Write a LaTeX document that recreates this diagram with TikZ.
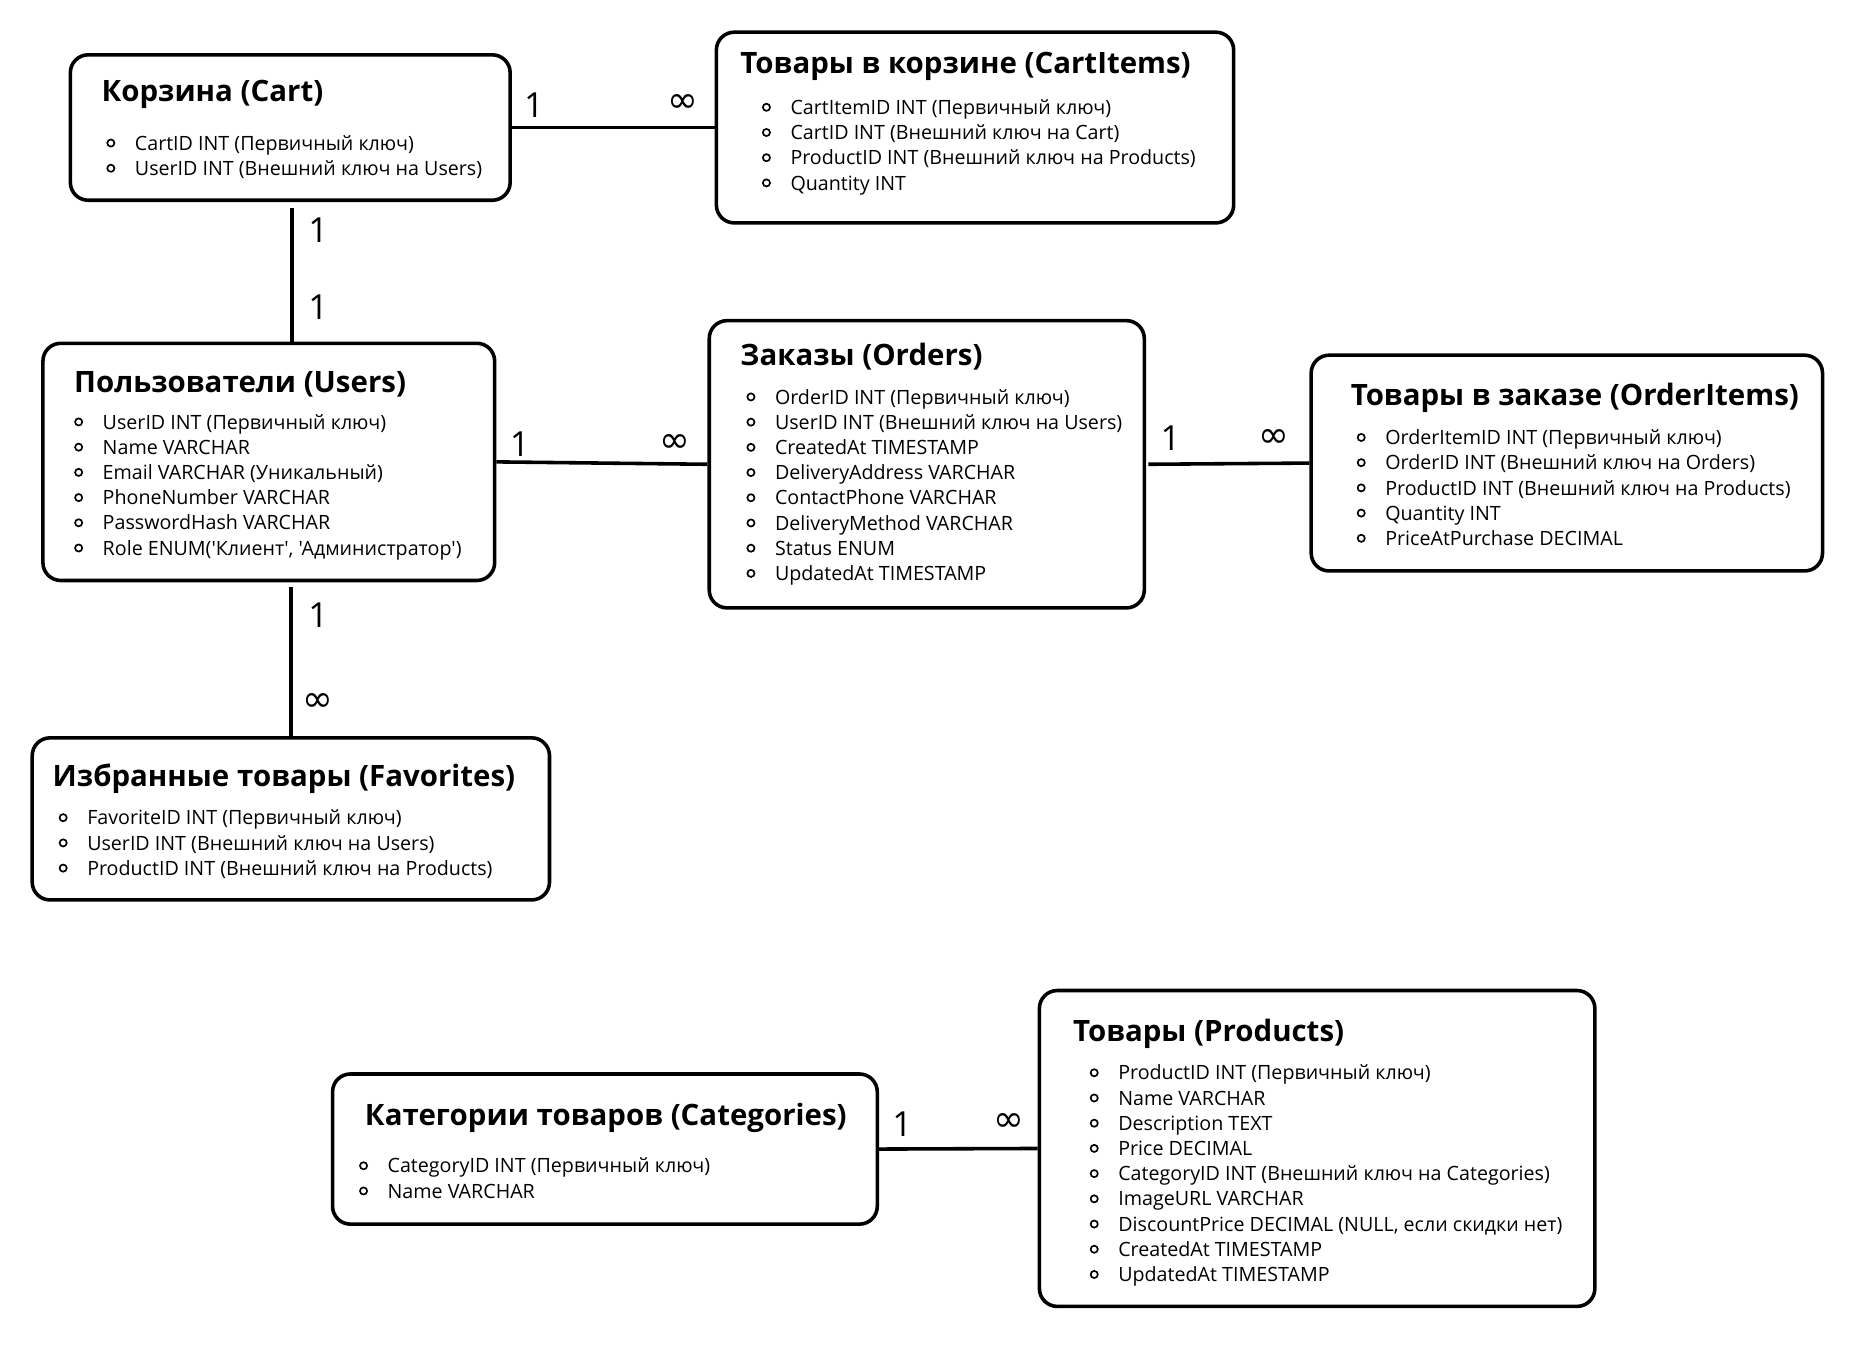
\documentclass[tikz,border=0pt]{standalone}
\usepackage{fontspec}
\setmainfont{Open Sans}[Ligatures=TeXOff]
\newfontfamily\symfont{DejaVu Sans}
\usetikzlibrary{calc}

\tikzset{
  entity/.style={draw, line width=3pt, rounded corners=15pt, inner sep=0pt},
  headtext/.style={font=\fontsize{24.7}{28}\selectfont\bfseries, inner sep=0pt, anchor=base west},
  rowtext/.style={font=\fontsize{16.5}{19}\selectfont, inner sep=0pt, anchor=base west},
  bulletmark/.style={draw, line width=1.4pt},
  link/.style={line width=3pt},
  card/.style={font=\fontsize{29}{32}\selectfont, inner sep=0pt},
  inf/.style={font=\fontsize{31}{34}\selectfont\symfont, inner sep=0pt},
}

% entity frame: name, left, top, right, bottom
\newcommand{\erbox}[5]{%
  \node[entity, minimum width={(#4)-(#2)}, minimum height={(#5)-(#3)}]
    (#1) at ({((#2)+(#4))/2},{((#3)+(#5))/2}) {};}
% entity heading: name, left, baseline, text
\newcommand{\ertitle}[4]{\node[headtext] (#1-title) at (#2,#3) {#4};}
% attribute rows: name, bullet x, text x, first row centre y, rows
\newcommand{\errows}[5]{%
  \foreach \rowtxt [count=\i from 0] in {#5}{
    \draw[bulletmark] (#2,{#4+21.15*\i}) circle (3pt);
    \node[rowtext] (#1-row\i) at (#3,{#4+21.15*\i+6}) {\rowtxt};
  }}

\begin{document}
\begin{tikzpicture}[x=1pt,y=-1pt]
  \fill[white] (0,0) rectangle (1568,1129);
  \useasboundingbox (0,0) rectangle (1568,1129);

  % Cart
  \erbox{cart}{59}{46}{428}{168}
  \ertitle{cart}{85}{85}{Корзина (Cart)}
  \errows{cart}{93}{113}{120}{{CartID INT (Первичный ключ)},{UserID INT (Внешний ключ на Users)}}

  % CartItems
  \erbox{cartitems}{601}{27}{1035}{187}
  \ertitle{cartitems}{621}{62}{Товары в корзине (CartItems)}
  \errows{cartitems}{643}{663}{90}{{CartItemID INT (Первичный ключ)},{CartID INT (Внешний ключ на Cart)},{ProductID INT (Внешний ключ на Products)},{Quantity INT}}

  % Users
  \erbox{users}{36}{288}{415}{487}
  \ertitle{users}{62}{329}{Пользователи (Users)}
  \errows{users}{66}{86}{354}{{UserID INT (Первичный ключ)},{Name VARCHAR},{Email VARCHAR (Уникальный)},{PhoneNumber VARCHAR},{PasswordHash VARCHAR},{Role ENUM('Клиент', 'Администратор')}}

  % Orders
  \erbox{orders}{595}{269}{960}{510}
  \ertitle{orders}{621}{307}{Заказы (Orders)}
  \errows{orders}{630}{650}{333}{{OrderID INT (Первичный ключ)},{UserID INT (Внешний ключ на Users)},{CreatedAt TIMESTAMP},{DeliveryAddress VARCHAR},{ContactPhone VARCHAR},{DeliveryMethod VARCHAR},{Status ENUM},{UpdatedAt TIMESTAMP}}

  % OrderItems
  \erbox{orderitems}{1100}{298}{1529}{479}
  \ertitle{orderitems}{1133}{340}{Товары в заказе (OrderItems)}
  \errows{orderitems}{1142}{1162}{367}{{OrderItemID INT (Первичный ключ)},{OrderID INT (Внешний ключ на Orders)},{ProductID INT (Внешний ключ на Products)},{Quantity INT},{PriceAtPurchase DECIMAL}}

  % Favorites
  \erbox{fav}{27}{619}{461}{755}
  \ertitle{fav}{44}{660}{Избранные товары (Favorites)}
  \errows{fav}{53}{73}{686}{{FavoriteID INT (Первичный ключ)},{UserID INT (Внешний ключ на Users)},{ProductID INT (Внешний ключ на Products)}}

  % Categories
  \erbox{categories}{279}{901}{736}{1027}
  \ertitle{categories}{306}{944}{Категории товаров (Categories)}
  \errows{categories}{305}{325}{978}{{CategoryID INT (Первичный ключ)},{Name VARCHAR}}

  % Products
  \erbox{products}{872}{831}{1338}{1096}
  \ertitle{products}{900}{874}{Товары (Products)}
  \errows{products}{918}{938}{900}{{ProductID INT (Первичный ключ)},{Name VARCHAR},{Description TEXT},{Price DECIMAL},{CategoryID INT (Внешний ключ на Categories)},{ImageURL VARCHAR},{DiscountPrice DECIMAL (NULL, если скидки нет)},{CreatedAt TIMESTAMP},{UpdatedAt TIMESTAMP}}

  % relationships
  \draw[link] (cart.east) -- (cartitems.west);
  \node[card] (c1) at (448,88) {1};
  \node[inf] (c2) at (573,87) {∞};

  \coordinate (cu) at ($(cart.south)+(1.5,5)$);
  \draw[link] (cu) -- (cu |- users.north);
  \node[card] (c3) at (267,193) {1};
  \node[card] (c4) at (267,258) {1};

  \draw[link] (users.east) -- (orders.west);
  \node[card] (c5) at (436,373) {1};
  \node[inf] (c6) at (566,372) {∞};

  \draw[link] ([xshift=2pt]orders.east) -- (orderitems.west);
  \node[card] (c7) at (982,368) {1};
  \node[inf] (c8) at (1069,368) {∞};

  \coordinate (uf) at ($(users.south)+(0,4)$);
  \draw[link] (uf -| fav.north) -- (fav.north);
  \node[card] (c9) at (267,516) {1};
  \node[inf] (c10) at (267,589) {∞};

  \draw[link] (categories.east) -- (products.west);
  \node[card] (c11) at (757,943) {1};
  \node[inf] (c12) at (846,942) {∞};
\end{tikzpicture}
\end{document}
